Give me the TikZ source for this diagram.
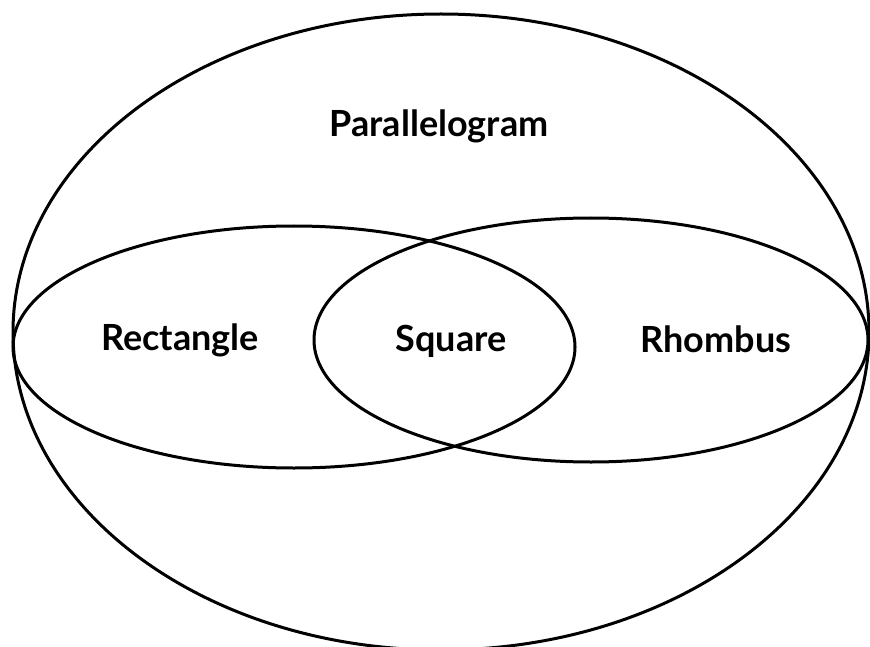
\documentclass[tikz,border=0pt]{standalone}
\usepackage{fontspec}
\setmainfont{Lato}
\usetikzlibrary{shapes.geometric}
\begin{document}
\begin{tikzpicture}[x=1pt,y=-1pt,
  setline/.style={line width=3pt,black},
  setlabel/.style={font=\fontsize{36}{43}\selectfont\bfseries,anchor=base,inner sep=0pt}]
\useasboundingbox (0,0) rectangle (870,647);
\draw[setline] (441,332) ellipse [x radius=428pt, y radius=318pt];
\draw[setline] (294,347) ellipse [x radius=281pt, y radius=121pt];
\draw[setline] (591,340) ellipse [x radius=277pt, y radius=122pt];
\node[setlabel] (para) at (439,137) {Parallelogram};
\node[setlabel] (rect) at (180,350) {Rectangle};
\node[setlabel] (sq) at (451,351) {Square};
\node[setlabel] (rh) at (716,352) {Rhombus};
\end{tikzpicture}
\end{document}
